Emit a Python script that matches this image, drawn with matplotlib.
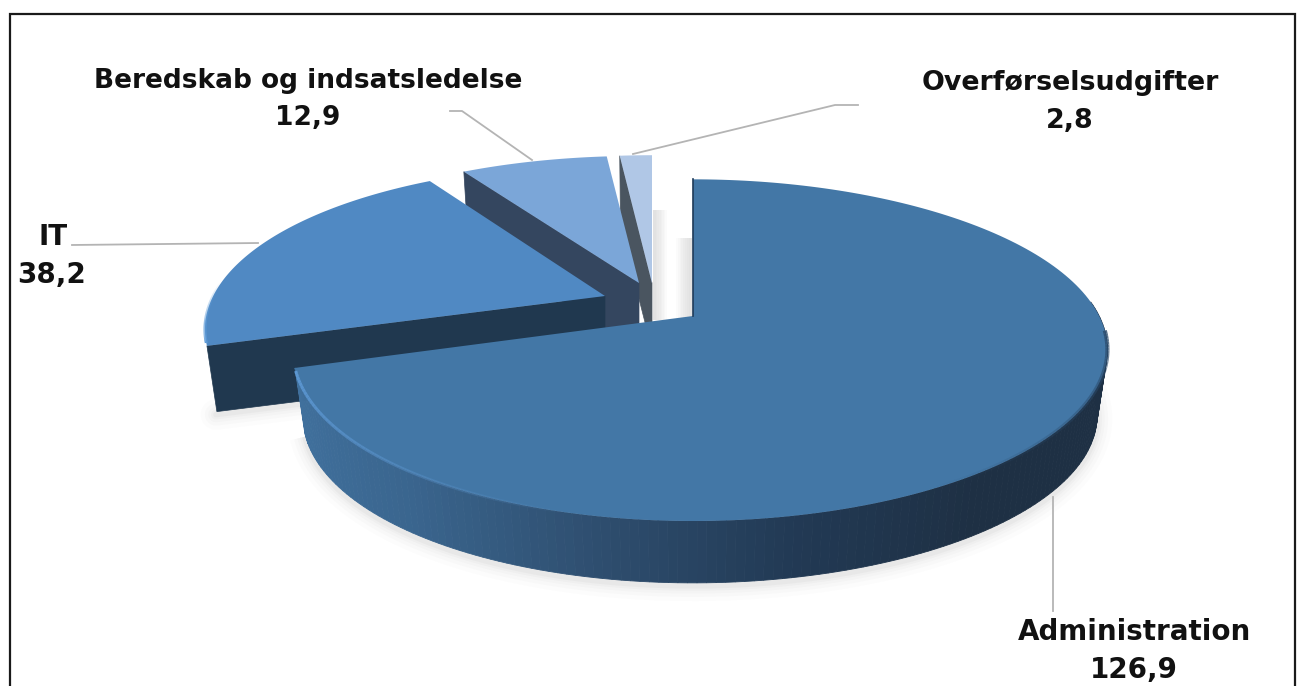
import numpy as np
import matplotlib
matplotlib.use("Agg")
import matplotlib.pyplot as plt
from matplotlib.colors import LinearSegmentedColormap
from matplotlib.patches import Polygon, Rectangle

labels = ["Administration", "IT", "Beredskab og indsatsledelse", "Overførselsudgifter"]
values = [126.9, 38.2, 12.9, 2.8]
value_text = ["126,9", "38,2", "12,9", "2,8"]

# pie layout, in pixels of the picture
colors = ["#4377a6", "#5089c3", "#7ba6d8", "#b0c7e6"]
face_colors = ["#1e3044", "#20384f", "#34465f", "#4a5560"]
apex_x = [693, 605, 639, 652]
apex_y = [316, 296, 283, 283]
y_scale = [1.0, 0.96, 0.93, 0.935]
RX = 399
RY = 164
K = 0.2
SKEW = 0.018
DEPTH = 67
SHRINK = 0.975

edges = np.concatenate([[0], np.cumsum(values)]) * 360.0 / np.sum(values)
side_cmap = LinearSegmentedColormap.from_list(
    "side", ["#41729f", "#3a658e", "#2f4f70", "#223a55", "#1e3044", "#1e3044"])


def pt(i, th, lower=False):
    t = np.radians(th)
    den = 1 + K * np.cos(t)
    x = RX * (1 + SKEW * np.sin(t)) * np.sin(t) / den
    y = -RY * y_scale[i] * np.cos(t) / den
    if lower:
        return apex_x[i] + SHRINK * x, apex_y[i] + DEPTH + SHRINK * y
    return apex_x[i] + x, apex_y[i] + y


def arc(i, a, b, lower=False, n=200):
    th = np.linspace(a, b, n)
    x, y = pt(i, th, lower)
    return np.column_stack([x, y])


def fade_rim(i, a, b, color, z, lw=2.2, peak=1.0):
    # rim line that fades out towards b
    th = np.linspace(a, b, 60)
    for j in range(len(th) - 1):
        s = arc(i, th[j], th[j + 1], n=4)
        ax.plot(s[:, 0], s[:, 1], color=color, lw=lw, alpha=peak * (1 - j / 59.0),
                zorder=z, solid_capstyle="butt")


fig = plt.figure(figsize=(12.99, 6.86), dpi=100)
ax = fig.add_axes([0, 0, 1, 1])
ax.set_xlim(0, 1299)
ax.set_ylim(686, 0)
ax.axis("off")

ax.add_patch(Rectangle((10, 14), 1285, 700, fc="white", ec="#1a1a1a", lw=1.6, zorder=0))

# soft shadows under the slices
tip = np.array(pt(1, edges[1], True))
low_apex = np.array([apex_x[1], apex_y[1] + DEPTH])
for lw, al in zip([22, 16, 11, 7, 4], [0.015, 0.02, 0.025, 0.03, 0.04]):
    s = arc(0, 85, edges[1], True)
    ax.plot(s[:, 0], s[:, 1] + 3, color="#555555", lw=lw, alpha=al, zorder=1, solid_capstyle="butt")
    s = np.vstack([tip + (low_apex - tip) * 0.25, tip])
    ax.plot(s[:, 0] - 1, s[:, 1] + 3, color="#555555", lw=lw, alpha=al, zorder=1, solid_capstyle="round")

# grey haze seen through the gap behind the small slices
for j in range(8):
    w = 14 - j * 1.6
    ax.add_patch(Rectangle((apex_x[3] + 1, apex_y[3] - 73), w, 110,
                           fc="#999999", alpha=0.035, ec="none", zorder=1))
    w = 16 - j * 1.8
    ax.add_patch(Rectangle((apex_x[0] - 1 - w, apex_y[0] - 78), w, 90,
                           fc="#999999", alpha=0.035, ec="none", zorder=1))

# back to front: the smallest slice first
for i, z in [(3, 2), (2, 3), (1, 4), (0, 5)]:
    a, b = edges[i], edges[i + 1]
    ap = (apex_x[i], apex_y[i])
    ap_low = (apex_x[i], apex_y[i] + DEPTH)
    # radial side
    if i > 0:
        ax.add_patch(Polygon([ap, pt(i, a), pt(i, a, True), ap_low],
                             fc=face_colors[i], ec=face_colors[i], lw=0.5, zorder=z))
    # outer side
    if i == 0:
        th = np.linspace(85, b, 150)
        for t0, t1 in zip(th[:-1], th[1:]):
            c = side_cmap(np.clip(0.5 + 0.5 * np.sin(np.radians(t0)), 0, 1))
            ax.add_patch(Polygon([pt(i, t0), pt(i, t1), pt(i, t1, True), pt(i, t0, True)],
                                 fc=c, ec=c, lw=0.6, zorder=z))
    # top face
    top = np.vstack([[ap], arc(i, a, b)])
    ax.add_patch(Polygon(top, fc=colors[i], ec="none", zorder=z + 0.1))

# rims on the pie
fade_rim(0, edges[1] - 1, 195, "#5c97d2", 5.2)
fade_rim(0, 95, 150, "#2a4a6b", 5.2, lw=3, peak=0.8)
fade_rim(1, edges[1] + 1, edges[1] + 22, "#5d9bd8", 4.2)
x1, y1 = pt(0, 0)
ax.plot([x1, apex_x[0]], [y1, apex_y[0]], color="#1e3a58", lw=1.2, zorder=5.2)

# leader lines
line_x = [[1053, 1053], [72, 258], [450, 462, 532], [858, 835, 633]]
line_y = [[497, 611], [245, 243], [111, 111, 160], [105, 105, 154]]
for lx, ly in zip(line_x, line_y):
    ax.plot(lx, ly, color="#b4b4b4", lw=1.3, zorder=1.5)

# labels
text_x = [1134, 53, 308, 1070]
name_y = [632, 237, 81, 83]
val_x = [1134, 52, 308, 1070]
val_y = [670, 275, 118, 121]
text_size = [20, 20, 19, 19.4]
for i in range(4):
    ax.text(text_x[i], name_y[i], labels[i], ha="center", va="center",
            fontsize=text_size[i], fontweight="bold", color="#111111", zorder=6)
    ax.text(val_x[i], val_y[i], value_text[i], ha="center", va="center",
            fontsize=text_size[i], fontweight="bold", color="#111111", zorder=6)

fig.savefig("out.png", dpi=100)
